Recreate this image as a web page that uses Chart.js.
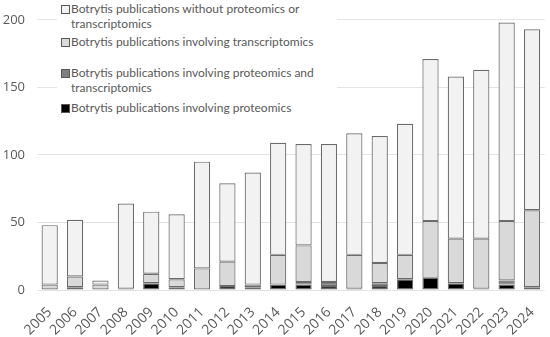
<!DOCTYPE html>
<html>
<head>
<meta charset="utf-8">
<script src="https://cdn.jsdelivr.net/npm/chart.js@4.4.1/dist/chart.umd.min.js"></script>
<style>
    body { margin: 0; background: #fff; }
    #wrap { position: relative; width: 550px; height: 337px; }
    #legend {
        position: absolute; left: 57px; top: 0; width: 280px; height: 116px;
        background: #fff; font-family: Lato, sans-serif; font-size: 12px;
        color: #595959;
    }
    .item { position: absolute; left: 4px; line-height: 14.5px; padding-left: 10px; white-space: nowrap; }
    .box {
        position: absolute; left: 0; top: 3px; width: 7px; height: 7px;
        border: 1px solid #595959;
    }
</style>
</head>
<body>
<div id="wrap">
    <canvas id="chart" width="550" height="337"></canvas>
    <div id="legend"></div>
</div>
<script>
const years = ['2005', '2006', '2007', '2008', '2009', '2010', '2011', '2012', '2013', '2014',
    '2015', '2016', '2017', '2018', '2019', '2020', '2021', '2022', '2023', '2024'];

// stacked from the bottom up
const proteomics = [0, 2, 0, 0, 5, 2, 0, 3, 2, 4, 4, 3, 1, 3, 8, 9, 5, 1, 4, 2];
const proteomicsAndTranscriptomics = [0, 0, 0, 1, 0, 0, 0, 0, 0, 0, 2, 3, 0, 2, 0, 0, 0, 0, 3, 0];
const transcriptomics = [4, 8, 4, 0, 7, 6, 16, 18, 2, 22, 27, 0, 25, 15, 18, 42, 33, 37, 44, 57];
const withoutEither = [44, 42, 3, 63, 46, 48, 79, 58, 83, 83, 75, 102, 90, 94, 97, 120, 120, 125, 147, 134];

const yTicks = [0, 50, 100, 150, 200];

const seriesNames = [
    'Botrytis publications involving proteomics',
    'Botrytis publications involving proteomics and transcriptomics',
    'Botrytis publications involving transcriptomics',
    'Botrytis publications without proteomics or transcriptomics'
];
const seriesColors = ['#000000', '#7f7f7f', '#d9d9d9', '#f2f2f2'];
const seriesData = [proteomics, proteomicsAndTranscriptomics, transcriptomics, withoutEither];

const datasets = seriesNames.map((name, i) => ({
    label: name,
    data: seriesData[i],
    backgroundColor: seriesColors[i],
    borderColor: '#6b6b6b',
    borderWidth: 1.2,
    borderSkipped: false,
    barPercentage: 0.64,
    categoryPercentage: 1
}));

new Chart(document.getElementById('chart'), {
    type: 'bar',
    data: { labels: years, datasets: datasets },
    options: {
        responsive: false,
        animation: false,
        layout: { padding: { top: 10, right: 3, left: 0, bottom: 0 } },
        plugins: { legend: { display: false }, tooltip: { enabled: false } },
        scales: {
            x: {
                stacked: true,
                grid: { display: false },
                border: { display: false },
                ticks: {
                    color: '#595959',
                    font: { family: 'Open Sans', size: 14 },
                    autoSkip: false,
                    maxRotation: 45, minRotation: 45, padding: 6
                },
                afterFit: scale => { scale.height = 47; }
            },
            y: {
                stacked: true,
                min: 0, max: 200,
                afterBuildTicks: scale => { scale.ticks = yTicks.map(v => ({ value: v })); },
                grid: { color: '#e3e3e3', lineWidth: 1, drawTicks: false },
                border: { display: false },
                ticks: {
                    color: '#595959',
                    font: { family: 'Open Sans', size: 13 },
                    padding: 12
                },
                afterFit: scale => { scale.width = 37; }
            }
        }
    }
});

// legend drawn over the plot, listed top series first
const legend = document.getElementById('legend');
const legendRows = [
    { i: 3, top: 2, text: 'Botrytis publications without proteomics or<br>transcriptomics' },
    { i: 2, top: 35, text: seriesNames[2] },
    { i: 1, top: 66, text: 'Botrytis publications involving proteomics and<br>transcriptomics' },
    { i: 0, top: 101, text: seriesNames[0] }
];
legendRows.forEach(r => {
    const div = document.createElement('div');
    div.className = 'item';
    div.style.top = r.top + 'px';
    div.innerHTML = '<span class="box" style="background:' + seriesColors[r.i] + '"></span>' + r.text;
    legend.appendChild(div);
});
</script>
</body>
</html>
